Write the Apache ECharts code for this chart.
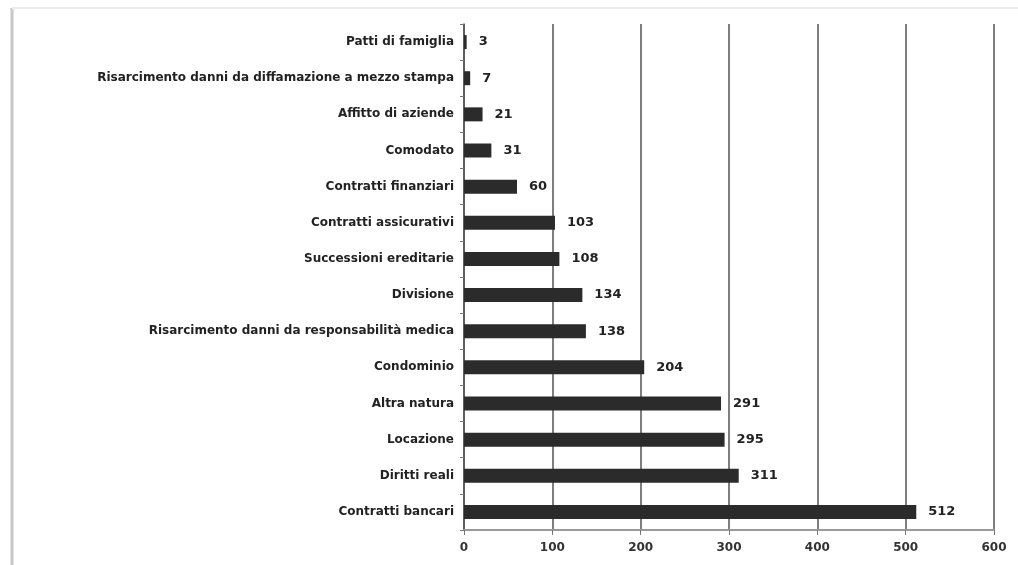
<!DOCTYPE html>
<html lang="it">
<head>
<meta charset="UTF-8">
<title>Materie</title>
<script src="https://cdn.jsdelivr.net/npm/echarts@6/dist/echarts.min.js"></script>
<style>
  body { margin: 0; background: #fff; }
  #chart { width: 1018px; height: 565px; }
</style>
</head>
<body>
<div id="chart"></div>
<script>
  // categorie, dall'alto verso il basso
  const categories = [
    'Patti di famiglia',
    'Risarcimento danni da diffamazione a mezzo stampa',
    'Affitto di aziende',
    'Comodato',
    'Contratti finanziari',
    'Contratti assicurativi',
    'Successioni ereditarie',
    'Divisione',
    'Risarcimento danni da responsabilità medica',
    'Condominio',
    'Altra natura',
    'Locazione',
    'Diritti reali',
    'Contratti bancari'
  ];
  const values = [3, 7, 21, 31, 60, 103, 108, 134, 138, 204, 291, 295, 311, 512];
  const xTicks = [0, 100, 200, 300, 400, 500, 600];

  const chart = echarts.init(document.getElementById('chart'));
  chart.setOption({
    animation: false,
    // cornice dell'immagine
    graphic: [
      { type: 'line', shape: { x1: 12, y1: 8, x2: 12, y2: 565 }, style: { stroke: '#c8c8c8', lineWidth: 3 } },
      { type: 'line', shape: { x1: 12, y1: 8, x2: 1018, y2: 8 }, style: { stroke: '#ececec', lineWidth: 2 } }
    ],
    grid: { left: 464, right: 24, top: 24, bottom: 35 },
    xAxis: {
      type: 'value',
      min: xTicks[0],
      max: xTicks[xTicks.length - 1],
      interval: 100,
      axisLine: { show: true, lineStyle: { color: '#999', width: 2 } },
      axisTick: { show: true, length: 5, lineStyle: { color: '#777' } },
      axisLabel: {
        color: '#333', fontFamily: 'DejaVu Sans', fontWeight: 'bold', fontSize: 12, margin: 12
      },
      splitLine: { show: true, lineStyle: { color: '#555', width: 1.5 } }
    },
    yAxis: {
      type: 'category',
      inverse: true,
      data: categories,
      axisLine: { show: true, lineStyle: { color: '#555', width: 1.5 } },
      axisTick: { show: true, length: 4, lineStyle: { color: '#777' } },
      axisLabel: {
        color: '#222', fontFamily: 'DejaVu Sans', fontWeight: 'bold', fontSize: 12, margin: 10
      }
    },
    series: [{
      type: 'bar',
      data: values,
      barWidth: 14,
      itemStyle: { color: '#2b2b2b' },
      label: {
        show: true,
        position: 'right',
        distance: 12,
        color: '#222',
        fontFamily: 'DejaVu Sans',
        fontWeight: 'bold',
        fontSize: 13
      }
    }]
  });
</script>
</body>
</html>
